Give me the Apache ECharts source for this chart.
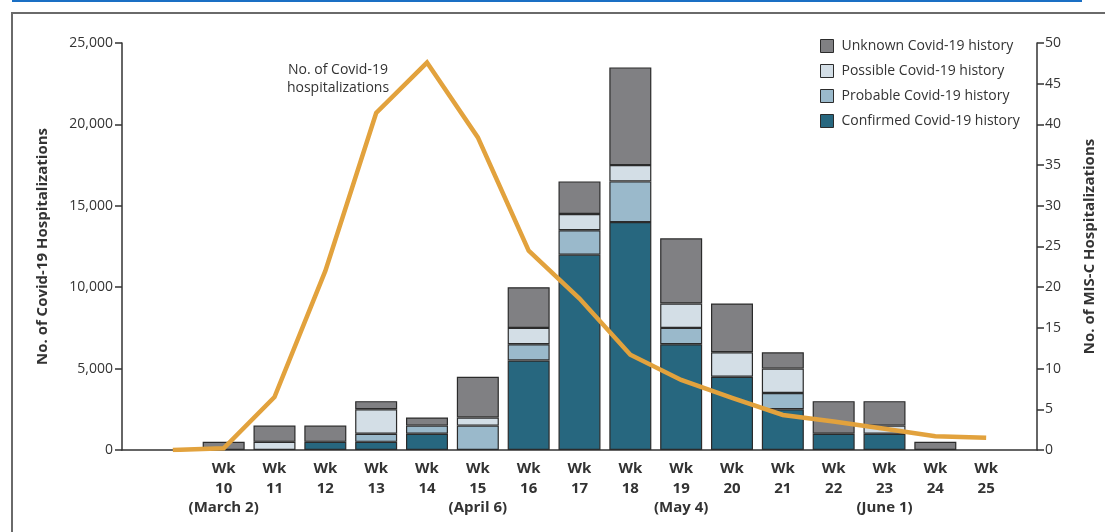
<!DOCTYPE html>
<html>
<head>
<meta charset="utf-8">
<script src="https://cdn.jsdelivr.net/npm/echarts@6/dist/echarts.min.js"></script>
<style>
html,body{margin:0;padding:0;background:#fff;}
#c{width:1105px;height:532px;}
</style>
</head>
<body>
<div id="c"></div>
<script>
// Weeks 8..26 (only 10..25 labeled)
var weeks = ['8','9','10','11','12','13','14','15','16','17','18','19','20','21','22','23','24','25','26'];
var dateNotes = {'10':'(March 2)','15':'(April 6)','19':'(May 4)','23':'(June 1)'};
var labeledWeeks = ['10','11','12','13','14','15','16','17','18','19','20','21','22','23','24','25'];

// MIS-C hospitalizations by Covid-19 history (right axis)
var confirmed = [null,null,null,null,1,1,2,null,11,24,28,13,9,5,2,2,null,null,null];
var probable  = [null,null,null,null,null,1,1,3,2,3,5,2,null,2,null,null,null,null,null];
var possible  = [null,null,null,1,null,3,null,1,2,2,2,3,3,3,null,1,null,null,null];
var unknown   = [null,null,1,2,2,1,1,5,5,4,12,8,6,2,4,3,1,null,null];

// Covid-19 hospitalizations (left axis)
var covidHosp = [null,0,100,3250,11000,20700,23800,19200,12250,9300,5850,4300,3200,2150,1750,1300,850,750,null];

var leftTicks = [0,5000,10000,15000,20000,25000];
var rightTicks = [0,5,10,15,20,25,30,35,40,45,50];

var FONT = 'Open Sans';
var chart = echarts.init(document.getElementById('c'), null, {renderer:'canvas'});

var colors = {
  confirmed:'#27677f', probable:'#9ab9cb', possible:'#d3dee6', unknown:'#808083'
};
function barSeries(name, data, color){
  return {
    name:name, type:'bar', stack:'misc', yAxisIndex:1, data:data,
    barWidth:42,
    itemStyle:{color:color, borderColor:'#2b2b2b', borderWidth:1.2},
    emphasis:{disabled:true}
  };
}

var option = {
  animation:false,
  backgroundColor:'#fff',
  textStyle:{fontFamily:FONT},
  grid:{left:122, right:68, top:43, bottom:82, containLabel:false},
  legend:{
    orient:'vertical', left:820, top:39, padding:0,
    itemWidth:13, itemHeight:13, itemGap:11,
    data:['Unknown Covid-19 history','Possible Covid-19 history','Probable Covid-19 history','Confirmed Covid-19 history'],
    icon:'rect',
    itemStyle:{borderColor:'#2b2b2b', borderWidth:1},
    textStyle:{fontFamily:FONT, fontSize:14, color:'#333', padding:[0,0,0,3]}
  },
  xAxis:{
    type:'category', data:weeks, boundaryGap:false,
    axisLine:{lineStyle:{color:'#333', width:1.5}},
    axisTick:{show:false},
    axisLabel:{
      interval:0, margin:9, lineHeight:19.5,
      fontFamily:FONT, fontSize:15, fontWeight:'bold', color:'#333', align:'center',
      formatter:function(v){
        if (labeledWeeks.indexOf(v) < 0) return '';
        var s = 'Wk\n' + v;
        if (dateNotes[v]) s += '\n' + dateNotes[v];
        return s;
      }
    }
  },
  yAxis:[
    {
      type:'value', min:0, max:25000, interval:5000,
      name:'No. of Covid-19 Hospitalizations', nameLocation:'middle', nameGap:72, nameRotate:90,
      nameTextStyle:{fontFamily:FONT, fontSize:15, fontWeight:'bold', color:'#333'},
      axisLine:{show:true, lineStyle:{color:'#333', width:1.5}},
      axisTick:{show:true, length:7, lineStyle:{color:'#333', width:1.5}},
      splitLine:{show:false},
      axisLabel:{margin:9, fontFamily:FONT, fontSize:14, color:'#333',
        formatter:function(v){ return leftTicks.indexOf(v)>=0 ? v.toLocaleString('en-US') : ''; }}
    },
    {
      type:'value', min:0, max:50, interval:5, position:'right',
      name:'No. of MIS-C Hospitalizations', nameLocation:'middle', nameGap:45, nameRotate:90,
      nameTextStyle:{fontFamily:FONT, fontSize:15, fontWeight:'bold', color:'#333'},
      axisLine:{show:true, lineStyle:{color:'#333', width:1.5}},
      axisTick:{show:true, length:7, lineStyle:{color:'#333', width:1.5}},
      splitLine:{show:false},
      axisLabel:{margin:8, fontFamily:FONT, fontSize:14, color:'#333',
        formatter:function(v){ return rightTicks.indexOf(v)>=0 ? String(v) : ''; }}
    }
  ],
  series:[
    barSeries('Confirmed Covid-19 history', confirmed, colors.confirmed),
    barSeries('Probable Covid-19 history', probable, colors.probable),
    barSeries('Possible Covid-19 history', possible, colors.possible),
    barSeries('Unknown Covid-19 history', unknown, colors.unknown),
    {
      name:'No. of Covid-19 hospitalizations', type:'line', yAxisIndex:0, data:covidHosp,
      showSymbol:false, symbol:'none', connectNulls:false, z:5,
      lineStyle:{color:'#e2a23d', width:4.5, join:'miter'},
      emphasis:{disabled:true}
    }
  ],
  graphic:[
    {type:'rect', shape:{x:12, y:0, width:1070, height:2}, style:{fill:'#1a6fc4'}, silent:true},
    {type:'rect', shape:{x:12, y:13, width:1120, height:560}, style:{fill:'none', stroke:'#6a6a6a', lineWidth:2}, silent:true},
    {type:'text', x:338, y:61, style:{text:'No. of Covid-19\nhospitalizations', fill:'#333', font:'14px "Open Sans"', align:'center', lineHeight:18}, silent:true}
  ]
};
chart.setOption(option);
</script>
</body>
</html>
